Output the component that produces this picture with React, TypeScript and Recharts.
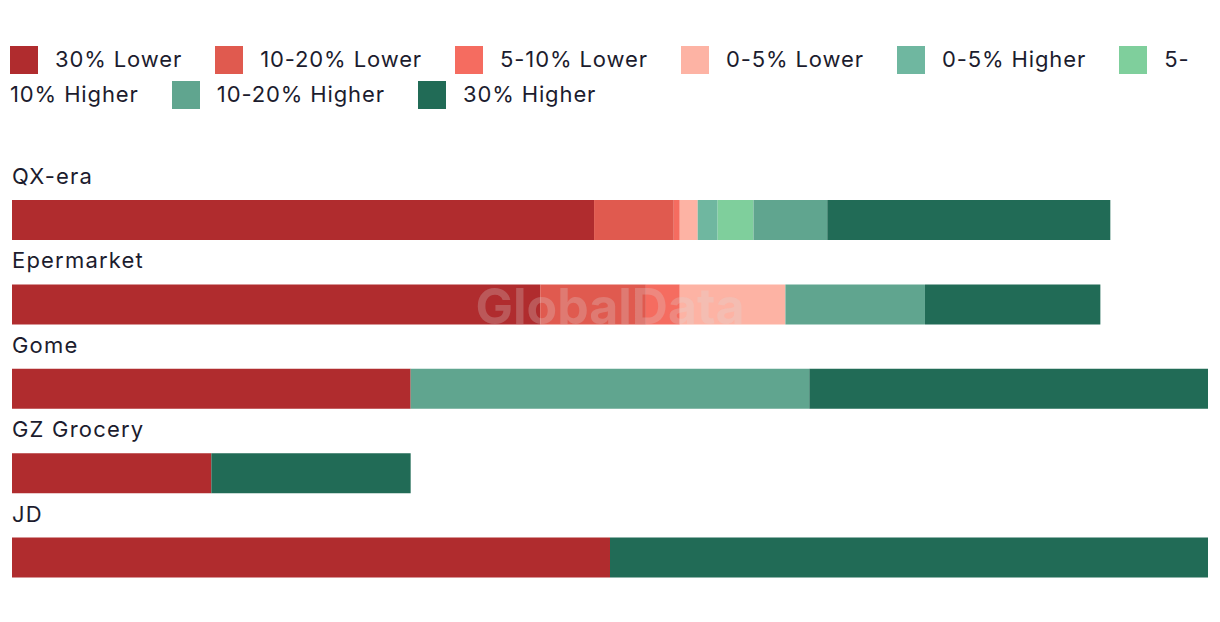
import React from "react";
import { BarChart, Bar, XAxis, YAxis, Legend, LabelList } from "recharts";

// retailers, top to bottom
const categories = ["QX-era", "Epermarket", "Gome", "GZ Grocery", "JD"];

// share of products per price band
const lower30 = [2.92, 2.65, 2, 1, 3];
const lower1020 = [0.4, 0.53, 0, 0, 0];
const lower510 = [0.03, 0.17, 0, 0, 0];
const lower05 = [0.09, 0.53, 0, 0, 0];
const higher05 = [0.1, 0, 0, 0, 0];
const higher510 = [0.18, 0, 0, 0, 0];
const higher1020 = [0.37, 0.7, 2, 0, 0];
const higher30 = [1.42, 0.88, 2, 1, 3];

const seriesNames = [
  "30% Lower",
  "10-20% Lower",
  "5-10% Lower",
  "0-5% Lower",
  "0-5% Higher",
  "5-10% Higher",
  "10-20% Higher",
  "30% Higher",
];
const seriesColors = [
  "#b02c2e",
  "#e05a4f",
  "#f56c60",
  "#fdb3a4",
  "#6fb7a0",
  "#7fcf9c",
  "#60a58f",
  "#216b56",
];
const seriesValues = [
  lower30,
  lower1020,
  lower510,
  lower05,
  higher05,
  higher510,
  higher1020,
  higher30,
];

const FONT = "Inter, 'Liberation Sans', Arial, sans-serif";
const TEXT = "#1c1c2e";

const data = categories.map((name, i) => {
  const row: Record<string, any> = { name };
  seriesNames.forEach((s, j) => {
    row[s] = seriesValues[j][i];
  });
  return row;
});

// plain inline flow so long rows wrap like the original (even mid-label)
const renderLegend = () => (
  <div
    style={{
      fontFamily: FONT,
      fontSize: 22,
      lineHeight: "35px",
      letterSpacing: 0.88,
      color: TEXT,
      textAlign: "left",
    }}
  >
    {seriesNames.map((s, i) => (
      <React.Fragment key={s}>
        {i > 0 ? " " : null}
        <span
          style={{
            display: "inline-block",
            width: 28,
            height: 28,
            background: seriesColors[i],
            verticalAlign: -7,
            marginLeft: i > 0 ? 26 : 0,
            marginRight: 17,
          }}
        />
        {s}
      </React.Fragment>
    ))}
  </div>
);

const CategoryLabel = (props: any) => {
  const { x, y, value } = props;
  return (
    <text
      x={x}
      y={y - 16}
      fontFamily={FONT}
      fontSize={22}
      letterSpacing={1.2}
      fill={TEXT}
      textAnchor="start"
    >
      {value}
    </text>
  );
};

export default function App() {
  return (
    <div style={{ position: "relative", width: 1204, height: 600 }}>
      <BarChart
        width={1204}
        height={600}
        data={data}
        layout="vertical"
        barSize={40}
        barCategoryGap={0}
        margin={{ top: 100, right: 4, bottom: 8, left: 4 }}
      >
        <XAxis type="number" domain={[0, 6]} hide />
        <YAxis type="category" dataKey="name" hide />
        <Legend
          verticalAlign="top"
          align="left"
          content={renderLegend}
          wrapperStyle={{ top: 34, left: 2, width: 1200, height: 70 }}
        />
        {seriesNames.map((s, i) => (
          <Bar
            key={s}
            dataKey={s}
            stackId="a"
            fill={seriesColors[i]}
            isAnimationActive={false}
          >
            {i === 0 && (
              <LabelList dataKey="name" content={<CategoryLabel />} />
            )}
          </Bar>
        ))}
      </BarChart>
      <div
        style={{
          position: "absolute",
          left: 0,
          top: 273,
          width: 1204,
          textAlign: "center",
          fontFamily: FONT,
          fontWeight: 700,
          fontSize: 50,
          lineHeight: "50px",
          color: "rgba(220,220,220,0.25)",
          pointerEvents: "none",
        }}
      >
        GlobalData
      </div>
    </div>
  );
}
